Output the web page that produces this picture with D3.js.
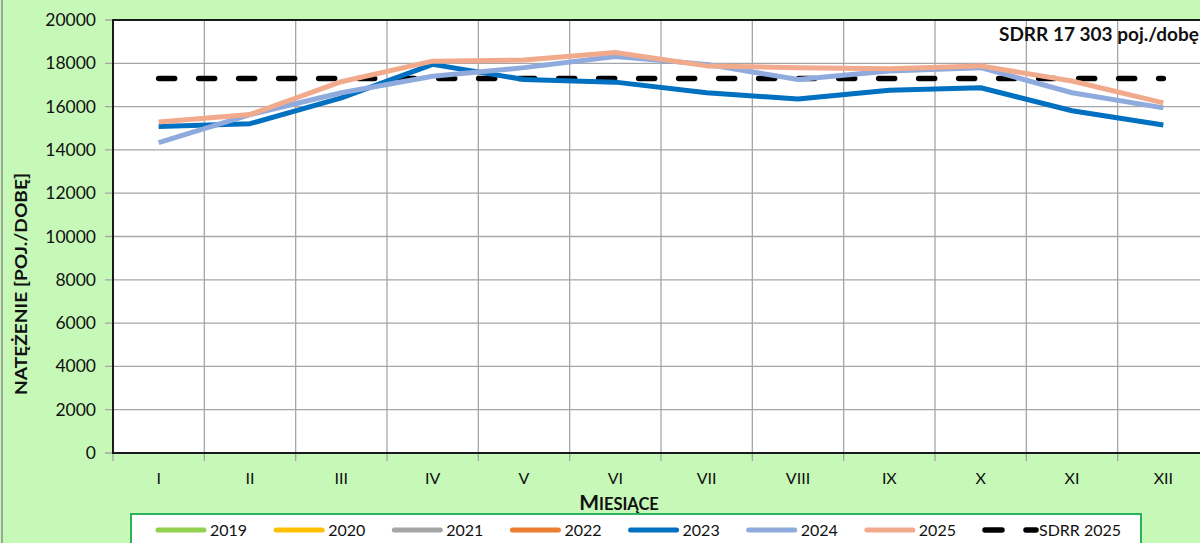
<!DOCTYPE html>
<html>
<head>
<meta charset="utf-8">
<script src="https://cdn.jsdelivr.net/npm/d3@7"></script>
<style>
  body { margin: 0; background: #c6f9b7; }
  svg { display: block; font-family: Lato, "Open Sans", sans-serif; }
</style>
</head>
<body>
<div id="chart"></div>
<script>
// months and series values (pojazdy / dobę)
const months = ["I", "II", "III", "IV", "V", "VI", "VII", "VIII", "IX", "X", "XI", "XII"];
const years = ["2019", "2020", "2021", "2022", "2023", "2024", "2025"];
const colors = ["#92d050", "#ffc000", "#a5a5a5", "#ed7d31", "#0070c0", "#8faadc", "#f2aa8c"];
const v2023 = [15080, 15210, 16400, 17950, 17250, 17130, 16640, 16350, 16760, 16870, 15810, 15150];
const v2024 = [14340, 15630, 16640, 17400, 17800, 18310, 17950, 17250, 17640, 17800, 16640, 15940];
const v2025 = [15290, 15630, 17150, 18100, 18150, 18500, 17880, 17800, 17750, 17880, 17180, 16170];
const sdrr = 17303;
const yTicks = [0, 2000, 4000, 6000, 8000, 10000, 12000, 14000, 16000, 18000, 20000];

const width = 1200, height = 543;
const margin = {left: 113, top: 20, bottom: 90};
const plotRight = 1209;
const plotBottom = height - margin.bottom;

const svg = d3.select("#chart")
              .append("svg")
              .attr("width", width)
              .attr("height", height);

// outer background + border
svg.append("rect")
   .attr("x", 0).attr("y", 0)
   .attr("width", width).attr("height", height)
   .attr("fill", "#c6f9b7");
svg.append("line")
   .attr("x1", 2).attr("x2", 2).attr("y1", 0).attr("y2", height)
   .attr("stroke", "#8c8c8c").attr("stroke-width", 1.5);

const x = d3.scaleBand()
            .domain(months)
            .range([margin.left, plotRight]);
const y = d3.scaleLinear()
            .domain([0, 20000])
            .range([plotBottom, margin.top]);

// plot area
svg.append("rect")
   .attr("x", margin.left).attr("y", margin.top)
   .attr("width", plotRight - margin.left).attr("height", plotBottom - margin.top)
   .attr("fill", "#fff");

// horizontal gridlines
svg.append("g")
   .selectAll("line")
   .data(yTicks)
   .join("line")
   .attr("x1", margin.left - 8).attr("x2", plotRight)
   .attr("y1", d => y(d)).attr("y2", d => y(d))
   .attr("stroke", "#a6a6a6").attr("stroke-width", 1.3);

// vertical gridlines at category boundaries (also ticks below axis)
const bounds = months.map(m => x(m)).concat([plotRight]);
svg.append("g")
   .selectAll("line")
   .data(bounds)
   .join("line")
   .attr("x1", d => d).attr("x2", d => d)
   .attr("y1", margin.top).attr("y2", plotBottom + 8)
   .attr("stroke", "#a6a6a6").attr("stroke-width", 1.3);

// plot border
svg.append("rect")
   .attr("x", margin.left).attr("y", margin.top)
   .attr("width", plotRight - margin.left).attr("height", plotBottom - margin.top)
   .attr("fill", "none").attr("stroke", "#1a1a1a").attr("stroke-width", 2);

// y tick labels
svg.append("g")
   .selectAll("text")
   .data(yTicks)
   .join("text")
   .attr("x", 96).attr("y", d => y(d) + 6)
   .attr("text-anchor", "end")
   .attr("font-size", 17.5)
   .attr("fill", "#111")
   .text(d => d);

// x tick labels
svg.append("g")
   .selectAll("text")
   .data(months)
   .join("text")
   .attr("x", d => x(d) + x.bandwidth() / 2).attr("y", 484)
   .attr("text-anchor", "middle")
   .attr("font-size", 16)
   .attr("fill", "#111")
   .text(d => d);

// y axis title (small caps done by hand)
const yt = svg.append("text")
   .attr("transform", "translate(27,284) rotate(-90)")
   .attr("text-anchor", "middle")
   .attr("font-weight", "bold").attr("fill", "#111")
   .attr("textLength", 222).attr("lengthAdjust", "spacingAndGlyphs");
yt.append("tspan").attr("font-size", 17).text("NATĘŻENIE [POJ./DOBĘ]");

// lines
const line = d3.line()
               .x((d, i) => x(months[i]) + x.bandwidth() / 2)
               .y(d => y(d));

svg.append("path")
   .datum(months.map(() => sdrr))
   .attr("d", line)
   .attr("fill", "none")
   .attr("stroke", "#000")
   .attr("stroke-width", 5.5)
   .attr("stroke-linecap", "round")
   .attr("stroke-dasharray", "16,24");

[[v2023, colors[4]], [v2024, colors[5]], [v2025, colors[6]]].forEach(([data, c]) => {
    svg.append("path")
       .datum(data)
       .attr("d", line)
       .attr("fill", "none")
       .attr("stroke", c)
       .attr("stroke-width", 5)
       .attr("stroke-linejoin", "round");
});

// annotation
svg.append("text")
   .attr("x", 999).attr("y", 41)
   .attr("font-size", 19).attr("font-weight", "bold")
   .attr("fill", "#111")
   .text("SDRR 17 303 poj./dobę");

// legend
svg.append("rect")
   .attr("x", 131).attr("y", 514)
   .attr("width", 1010).attr("height", 40)
   .attr("fill", "#fff")
   .attr("stroke", "#2bb35a").attr("stroke-width", 2);

const legendX = d3.scaleLinear().domain([0, 7]).range([155, 982]);
const items = years.map((yr, i) => ({label: yr, color: colors[i]}));
const lg = svg.append("g");
items.forEach((it, i) => {
    const lx = legendX(i);
    lg.append("line")
      .attr("x1", lx + 3).attr("x2", lx + 49)
      .attr("y1", 530).attr("y2", 530)
      .attr("stroke", it.color).attr("stroke-width", 5)
      .attr("stroke-linecap", "round");
    lg.append("text")
      .attr("x", lx + 55).attr("y", 536)
      .attr("font-size", 16).attr("fill", "#111")
      .text(it.label);
});
const sx = legendX(7);
lg.append("line")
  .attr("x1", sx + 3).attr("x2", sx + 54)
  .attr("y1", 530).attr("y2", 530)
  .attr("stroke", "#000").attr("stroke-width", 5.5)
  .attr("stroke-linecap", "round")
  .attr("stroke-dasharray", "17,24");
lg.append("text")
  .attr("x", sx + 57).attr("y", 536)
  .attr("font-size", 16).attr("fill", "#111")
  .text("SDRR 2025");

// x axis title, drawn after the legend so the ogonek stays visible
const xt = svg.append("text")
   .attr("x", 619).attr("y", 510)
   .attr("text-anchor", "middle")
   .attr("font-weight", "bold").attr("fill", "#111");
xt.append("tspan").attr("font-size", 21).text("M");
xt.append("tspan").attr("font-size", 16.5).text("IESIĄCE");
</script>
</body>
</html>
